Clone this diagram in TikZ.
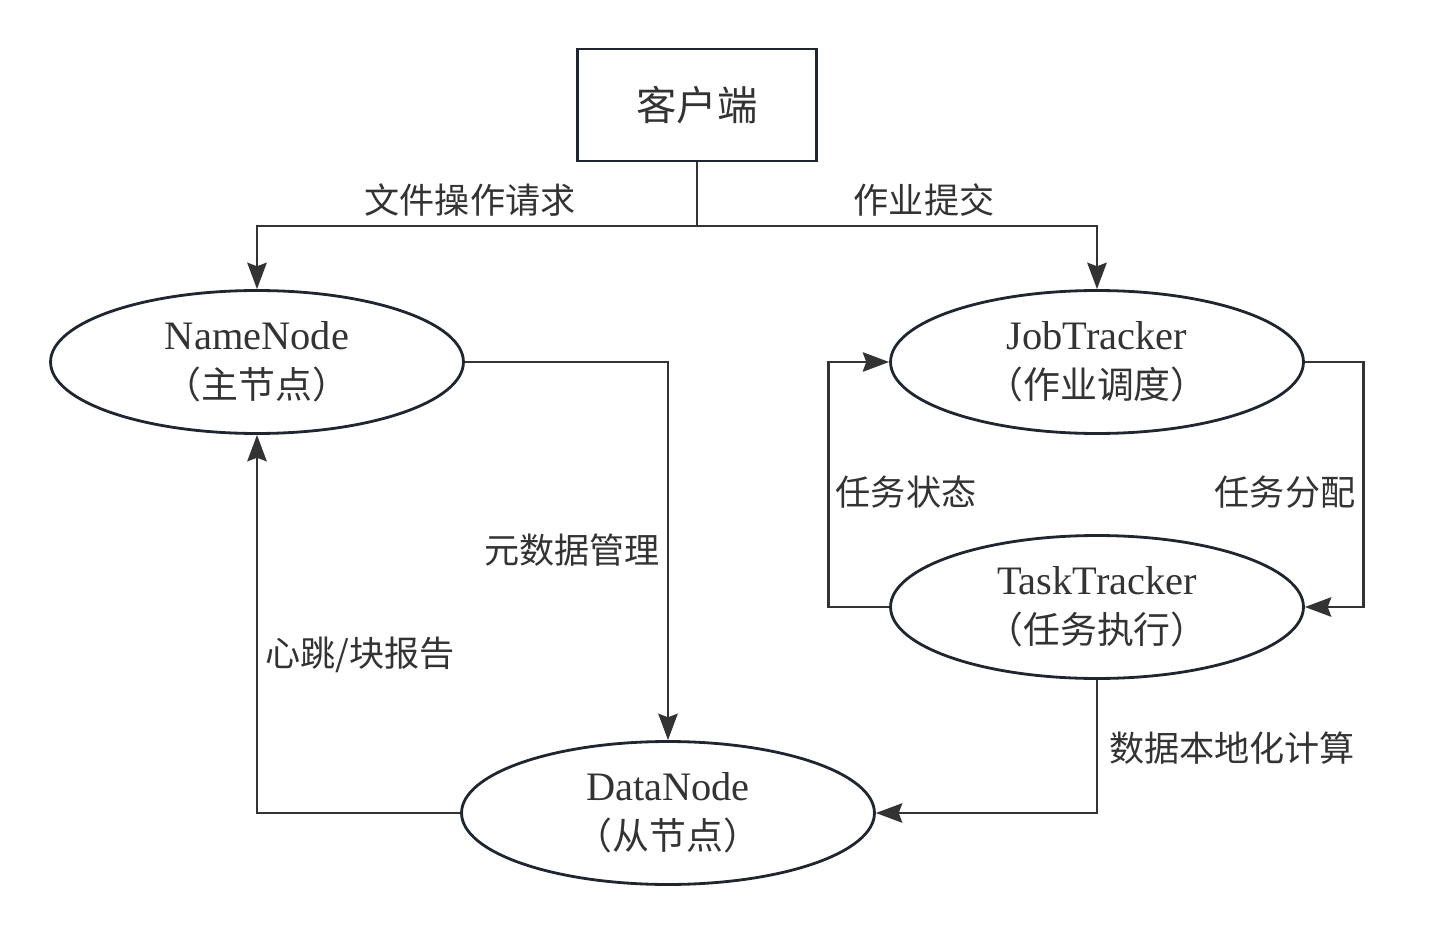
\documentclass[tikz,border=0pt]{standalone}
\usepackage{fontspec}
\setmainfont{Liberation Serif}
\newfontfamily\cjk{Noto Sans CJK SC}
\usepackage{tikz}
\usetikzlibrary{shapes.geometric}
\usetikzlibrary{arrows.meta}
\usetikzlibrary{positioning}

\definecolor{linegray}{HTML}{333333}
\definecolor{rimgray}{HTML}{1F2630}

\tikzset{
	rolenode/.style={ellipse,draw=rimgray,line width=1.6pt,minimum width=8.26cm,minimum height=2.86cm,inner sep=0pt,align=center,text=linegray,font=\fontsize{23}{27}\selectfont},
	clientbox/.style={rectangle,draw=rimgray,line width=1.6pt,minimum width=4.78cm,minimum height=2.24cm,text=linegray,font=\cjk\fontsize{23}{27}\selectfont},
	flow/.style={draw=linegray,line width=1.6pt,-{Stealth[length=15pt,width=11pt,inset=2pt]}},
	plainflow/.style={draw=linegray,line width=1.6pt},
	flowtext/.style={text=linegray,font=\cjk\fontsize{20}{24}\selectfont,inner sep=0pt}
}

\begin{document}
\begin{tikzpicture}[x=0.02cm,y=-0.02cm]
				\useasboundingbox (0,0) rectangle (1444,936);
				\node[clientbox] (client) at (697,105) {客户端};
				\node[rolenode] (nn) at (257,362) {NameNode\\[1pt]{\cjk\fontsize{21}{25}\selectfont （主节点）}};
				\node[rolenode] (jt) at (1097,362) {JobTracker\\[1pt]{\cjk\fontsize{21}{25}\selectfont （作业调度）}};
				\node[rolenode] (tt) at (1097,607) {TaskTracker\\[1pt]{\cjk\fontsize{21}{25}\selectfont （任务执行）}};
				\node[rolenode] (dn) at (668,813) {DataNode\\[1pt]{\cjk\fontsize{21}{25}\selectfont （从节点）}};
				\coordinate (split) at (697,226);
				\draw[plainflow] (client.south) -- (split);
				\draw[flow] (split) -| (nn.north);
				\draw[flow] (split) -| (jt.north);
				\draw[flow] (nn.east) -| (dn.north);
				\draw[flow] (dn.west) -| (nn.south);
				\draw[flow] (jt.east) -- ++(59,0) |- (tt.east);
				\draw[flow] (tt.west) -- ++(-61,0) |- (jt.west);
				\draw[flow] (tt.south) |- (dn.east);
				\node[flowtext] (askfile) at (470,200) {文件操作请求};
				\node[flowtext] (askjob) at (924,200) {作业提交};
				\node[flowtext] (meta) at (572,550) {元数据管理};
				\node[flowtext] (beat) at (360,655) {心跳/块报告};
				\node[flowtext] (state) at (906,492) {任务状态};
				\node[flowtext] (assign) at (1285,492) {任务分配};
				\node[flowtext] (local) at (1232,748) {数据本地化计算};
			\end{tikzpicture}
\end{document}
